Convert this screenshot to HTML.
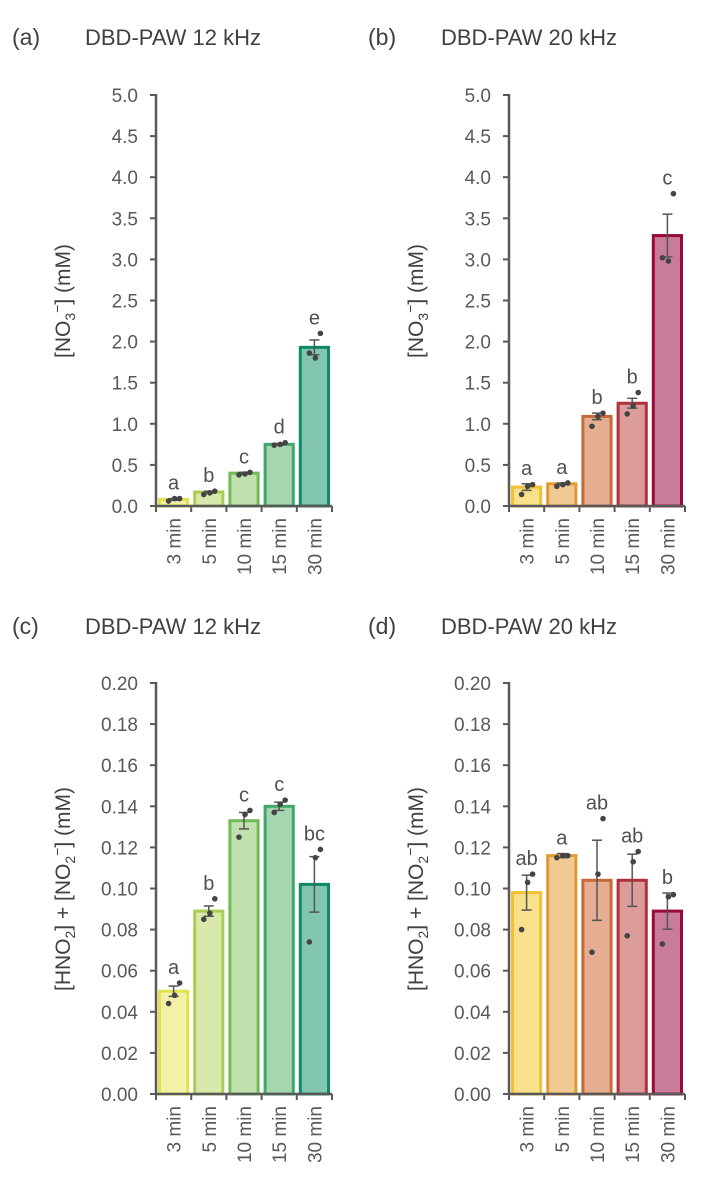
<!DOCTYPE html>
<html><head><meta charset="utf-8"><style>
html,body{margin:0;padding:0;background:#fff;}
svg{display:block;font-family:"Liberation Sans",Arial,sans-serif;}
</style></head><body>
<svg id="fig" width="717" height="1194" viewBox="0 0 717 1194" xmlns="http://www.w3.org/2000/svg"></svg>
<script>
const categories = ["3 min","5 min","10 min","15 min","30 min"];
// panel a
const aMeans = [0.08,0.17,0.40,0.75,1.93];
const aErr = [0.01,0.01,0.01,0.01,0.09];
const aPts = [[0.06,0.09,0.09],[0.14,0.16,0.18],[0.38,0.39,0.41],[0.74,0.75,0.77],[1.86,1.80,2.10]];
const aLetters = ["a","b","c","d","e"];
// panel b
const bMeans = [0.23,0.27,1.09,1.25,3.29];
const bErr = [0.04,0.01,0.04,0.06,0.26];
const bPts = [[0.14,0.24,0.26],[0.24,0.26,0.28],[0.97,1.09,1.13],[1.12,1.22,1.38],[3.02,2.98,3.80]];
const bLetters = ["a","a","b","b","c"];
// panel c
const cMeans = [0.050,0.089,0.133,0.140,0.102];
const cErr = [0.0025,0.0025,0.004,0.002,0.0135];
const cPts = [[0.044,0.048,0.054],[0.085,0.088,0.095],[0.125,0.136,0.138],[0.137,0.141,0.143],[0.074,0.115,0.119]];
const cLetters = ["a","b","c","c","bc"];
// panel d
const dMeans = [0.098,0.116,0.104,0.104,0.089];
const dErr = [0.0085,0.001,0.0195,0.0127,0.0088];
const dPts = [[0.080,0.103,0.107],[0.115,0.116,0.116],[0.069,0.107,0.134],[0.077,0.113,0.118],[0.073,0.096,0.097]];
const dLetters = ["ab","a","ab","ab","b"];
const nitrateTicks = ["0.0","0.5","1.0","1.5","2.0","2.5","3.0","3.5","4.0","4.5","5.0"];
const nitriteTicks = ["0.00","0.02","0.04","0.06","0.08","0.10","0.12","0.14","0.16","0.18","0.20"];

const greenFill=["#f3f1a6","#d9e8ab","#c0e0ae","#a6d6b0","#82c6b2"];
const greenStroke=["#e3e24e","#a9cd52","#72b957","#3fa86a","#0e8a68"];
const redFill=["#f9e18c","#f0c994","#e5ae92","#dc9c9a","#c97c99"];
const redStroke=["#f0c233","#e09b31","#c8693a","#b0333b","#990a3a"];

const NS="http://www.w3.org/2000/svg";
const svg=document.getElementById("fig");
function mk(tag,attrs,parent){const e=document.createElementNS(NS,tag);for(const k in attrs)e.setAttribute(k,attrs[k]);(parent||svg).appendChild(e);return e;}

function panel(o){
  const g=mk("g",{});
  
  
  const x0=o.x0, x1=o.x0+176, y0=o.y0, ytop=o.y0-411;
  const ys=v=>y0-(v/o.max)*411;
  const cw=(x1-x0)/categories.length;
  const xc=i=>x0+cw*(i+0.5);
  const t1=mk("text",{x:o.tx,y:o.ty,"font-size":23,fill:"#404040"},g);t1.textContent=o.tag;
  
  
  const t2=mk("text",{x:o.tx+73,y:o.ty,"font-size":22,fill:"#404040"},g);t2.textContent=o.title;
  
  
  o.ticks.forEach((lab,i)=>{
    const y=y0-i*41.1;
    mk("line",{x1:x0-6,x2:x0,y1:y,y2:y,stroke:"#595959","stroke-width":2},g);
    const t=mk("text",{x:x0-18,y:y+7,"font-size":19,"text-anchor":"end",fill:"#595959"},g);t.textContent=lab;
    
    
  });
  const yt=mk("text",{transform:`translate(${o.x0-86},${y0-205}) rotate(-90)`,"font-size":21,"text-anchor":"middle",fill:"#404040"},g);
  yt.innerHTML=o.ytitle;
  
  
  o.means.forEach((m,i)=>{
    const bx=x0+cw*i+3.5, bw=cw-7, by=ys(m);
    const r=mk("rect",{x:bx,y:by,width:bw,height:y0-by,fill:o.fill[i],stroke:o.stroke[i],"stroke-width":3},g);
    
    
    const e=o.err[i], cx=xc(i);
    mk("line",{x1:cx,x2:cx,y1:ys(m+e),y2:ys(m-e),stroke:"#555","stroke-width":1.5},g);
    mk("line",{x1:cx-5,x2:cx+5,y1:ys(m+e),y2:ys(m+e),stroke:"#555","stroke-width":1.5},g);
    mk("line",{x1:cx-5,x2:cx+5,y1:ys(m-e),y2:ys(m-e),stroke:"#555","stroke-width":1.5},g);
    const offs=[-5,1,6];
    o.pts[i].forEach((p,j)=>{
      const c=mk("circle",{cx:cx+offs[j],cy:ys(p),r:2.8,fill:"#444"},g);
      
      
    });
    const top=Math.min(ys(m+e),...o.pts[i].map(ys),by);
    const lt=mk("text",{x:cx,y:top-9,"font-size":20,"text-anchor":"middle",fill:"#505050"},g);lt.textContent=o.letters[i];
    
    
    const xl=mk("text",{transform:`translate(${cx+7},${y0+12}) rotate(-90)`,"font-size":19,"text-anchor":"end",fill:"#595959"},g);
    xl.textContent=categories[i];
    
    
  });
  mk("line",{x1:x0,x2:x0,y1:ytop-1,y2:y0,stroke:"#595959","stroke-width":2.5},g);
  mk("line",{x1:x0,x2:x1,y1:y0,y2:y0,stroke:"#595959","stroke-width":2.5},g);
  for(let i=0;i<=categories.length;i++){const x=x0+cw*i;mk("line",{x1:x,x2:x,y1:y0,y2:y0+6,stroke:"#595959","stroke-width":2},g);}
}
const no3='[NO<tspan font-size="14" dy="5">3</tspan><tspan font-size="14" dy="-13">−</tspan><tspan dy="8">] (mM)</tspan>';
const no2='[HNO<tspan font-size="14" dy="5">2</tspan><tspan dy="-5">] + [NO</tspan><tspan font-size="14" dy="5">2</tspan><tspan font-size="14" dy="-13">−</tspan><tspan dy="8">] (mM)</tspan>';
panel({id:"panel-a",x0:156,y0:506,max:5,tx:12,ty:45,tag:"(a)",title:"DBD-PAW 12 kHz",ticks:nitrateTicks,ytitle:no3,means:aMeans,err:aErr,pts:aPts,letters:aLetters,fill:greenFill,stroke:greenStroke});
panel({id:"panel-b",x0:509,y0:506,max:5,tx:368,ty:45,tag:"(b)",title:"DBD-PAW 20 kHz",ticks:nitrateTicks,ytitle:no3,means:bMeans,err:bErr,pts:bPts,letters:bLetters,fill:redFill,stroke:redStroke});
panel({id:"panel-c",x0:156,y0:1094,max:0.2,tx:12,ty:634,tag:"(c)",title:"DBD-PAW 12 kHz",ticks:nitriteTicks,ytitle:no2,means:cMeans,err:cErr,pts:cPts,letters:cLetters,fill:greenFill,stroke:greenStroke});
panel({id:"panel-d",x0:509,y0:1094,max:0.2,tx:368,ty:634,tag:"(d)",title:"DBD-PAW 20 kHz",ticks:nitriteTicks,ytitle:no2,means:dMeans,err:dErr,pts:dPts,letters:dLetters,fill:redFill,stroke:redStroke});
</script>
</body></html>
